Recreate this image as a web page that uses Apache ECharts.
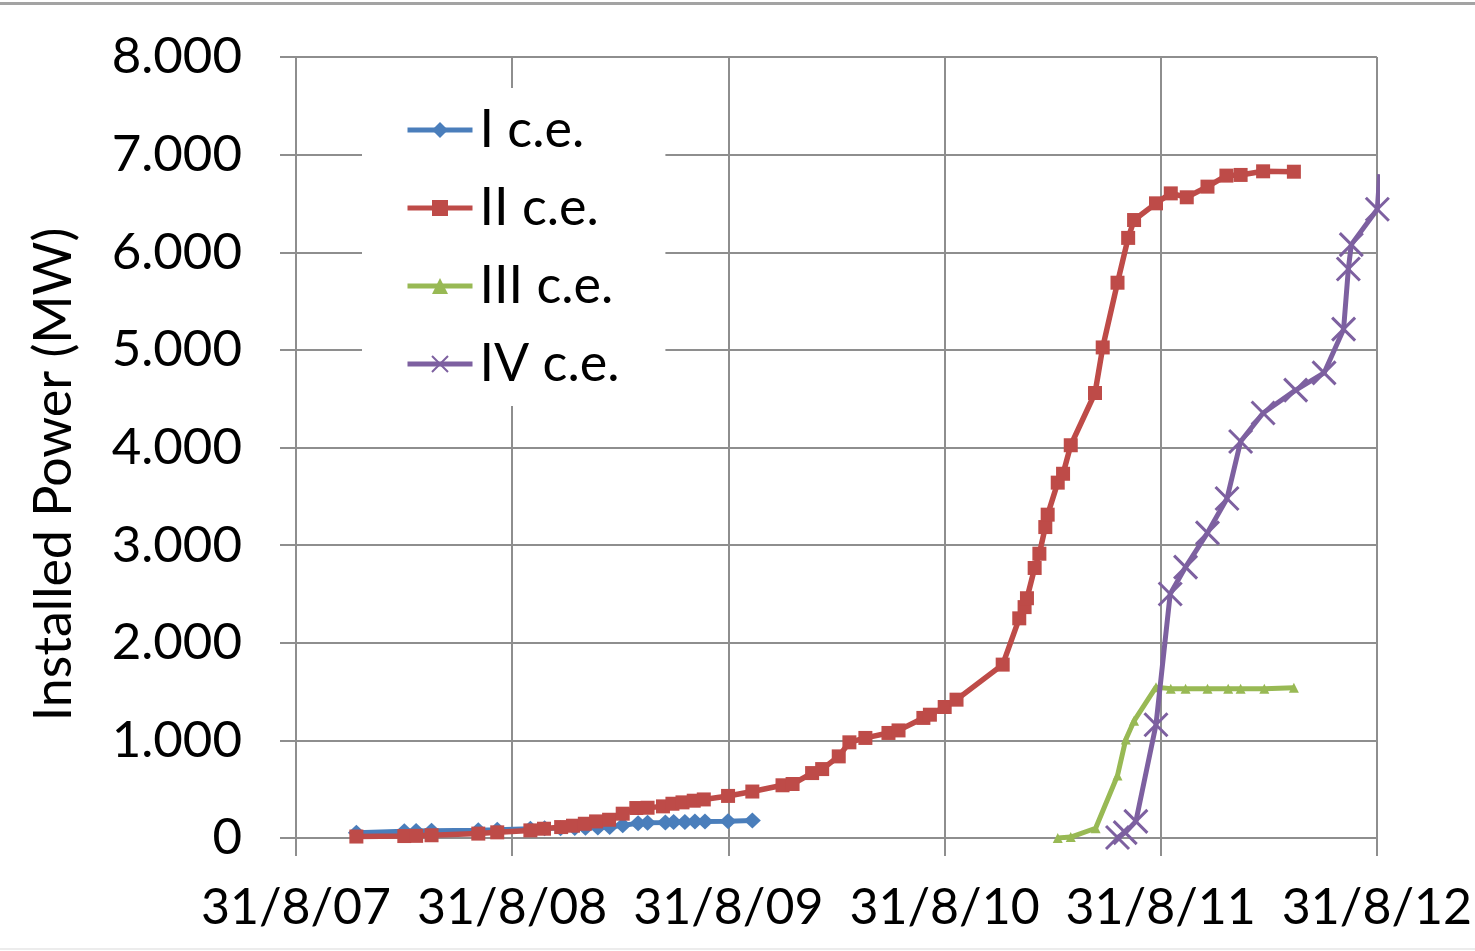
<!DOCTYPE html>
<html>
<head>
<meta charset="utf-8">
<script src="https://cdn.jsdelivr.net/npm/echarts@6/dist/echarts.min.js"></script>
<style>
  html, body { margin: 0; padding: 0; background: #ffffff; }
  #frameTop { position: absolute; left: 0; top: 2px; width: 1475px; height: 3px; background: #a3a3a3; }
  #frameBottom { position: absolute; left: 0; top: 948px; width: 1475px; height: 2px; background: #ececec; }
  #chart { position: absolute; left: 0; top: 0; width: 1475px; height: 951px; }
</style>
</head>
<body>
<div id="chart"></div>
<div id="frameTop"></div>
<div id="frameBottom"></div>
<script>
// ---- data ----
const tickLabels = ['31/8/07', '31/8/08', '31/8/09', '31/8/10', '31/8/11', '31/8/12'];
const axisStart = '2007-08-31';
const seriesNames = ['I c.e.', 'II c.e.', 'III c.e.', 'IV c.e.'];

const datesI = ['2007-12-11','2008-03-01','2008-03-21','2008-04-16','2008-07-04','2008-08-05','2008-09-30','2008-10-24',
  '2008-11-20','2008-12-14','2009-01-01','2009-01-22','2009-02-11','2009-03-05','2009-03-31','2009-04-16',
  '2009-05-16','2009-05-30','2009-06-18','2009-07-05','2009-07-22','2009-08-30','2009-10-10'];
const valuesI = [55, 70, 72, 75, 80, 85, 95, 100,
  100, 102, 105, 108, 112, 130, 150, 155,
  158, 165, 165, 168, 170, 172, 178];

const datesII = ['2007-12-11','2008-03-01','2008-03-21','2008-04-16','2008-07-04','2008-08-05','2008-09-30','2008-10-23',
  '2008-11-21','2008-12-11','2008-12-31','2009-01-19','2009-02-10','2009-03-05','2009-03-28','2009-04-16',
  '2009-05-12','2009-05-28','2009-06-14','2009-07-03','2009-07-20','2009-08-30','2009-10-10','2009-11-30',
  '2009-12-17','2010-01-19','2010-02-05','2010-03-05','2010-03-23','2010-04-19','2010-05-28','2010-06-14',
  '2010-07-26','2010-08-06','2010-08-31','2010-09-20','2010-12-07','2011-01-04','2011-01-13','2011-01-17',
  '2011-01-30','2011-02-07','2011-02-17','2011-02-21','2011-03-10','2011-03-19','2011-04-01','2011-05-12',
  '2011-05-25','2011-06-19','2011-07-07','2011-07-17','2011-08-23','2011-09-17','2011-10-14','2011-11-18',
  '2011-12-20','2012-01-13','2012-02-20','2012-04-12'];
const valuesII = [15, 20, 22, 28, 45, 58, 78, 95,
  112, 126, 146, 170, 187, 249, 307, 310,
  324, 351, 365, 382, 395, 431, 476, 540,
  553, 665, 706, 836, 980, 1025, 1076, 1102,
  1230, 1263, 1342, 1417, 1776, 2250, 2365, 2456,
  2766, 2912, 3185, 3312, 3640, 3731, 4023, 4558,
  5025, 5688, 6147, 6330, 6501, 6603, 6563, 6672,
  6785, 6792, 6829, 6825];

const datesIII = ['2011-03-10','2011-04-01','2011-05-13','2011-06-19','2011-07-03','2011-07-17','2011-08-23',
  '2011-09-17','2011-10-12','2011-11-18','2011-12-23','2012-01-13','2012-02-22','2012-04-12'];
const valuesIII = [0, 10, 100, 640, 1010, 1200, 1545,
  1530, 1530, 1530, 1530, 1530, 1530, 1540];

const datesIV = ['2011-06-19','2011-07-02','2011-07-20','2011-08-23','2011-09-16','2011-10-12','2011-11-18',
  '2011-12-21','2012-01-13','2012-02-20','2012-04-15','2012-06-02','2012-07-05','2012-07-13','2012-07-18',
  '2012-08-31','2012-09-04'];
const valuesIV = [5, 55, 170, 1160, 2500, 2775, 3126,
  3477, 4062, 4354, 4588, 4764, 5212, 5828, 6078,
  6440, 6800];

const colors = ['#4a7ebb', '#be4b48', '#98b954', '#7d60a0'];

// ---- helpers ----
const DAY = 86400000;
const t0 = Date.parse(axisStart);
function toYears(d) { return (Date.parse(d) - t0) / (365.25 * DAY); }
function pairs(dates, values) { return dates.map((d, i) => [toYears(d), values[i]]); }
function fmtThousands(v) {
  if (v === 0) return '0';
  return Math.floor(v / 1000) + '.' + String(v % 1000).padStart(3, '0');
}

const FONT = 'Lato';
const GRID = '#8e8e8e';

const xPath = 'path://M0,0L10,10M10,0L0,10';

const dataIV = pairs(datesIV, valuesIV).map((p, i, arr) =>
  i === arr.length - 1 ? { value: p, symbol: 'none' } : p);

const chart = echarts.init(document.getElementById('chart'), null, { renderer: 'canvas' });
chart.setOption({
  animation: false,
  backgroundColor: '#ffffff',
  textStyle: { fontFamily: FONT },
  grid: { left: 296, right: 95, top: 57, bottom: 113, containLabel: false },
  legend: {
    orient: 'vertical',
    left: 362,
    top: 88,
    padding: [14, 46, 14, 43],
    backgroundColor: '#ffffff',
    itemWidth: 65,
    itemHeight: 20,
    itemGap: 22,
    data: seriesNames,
    lineStyle: { width: 5 },
    textStyle: { fontFamily: FONT, fontSize: 52, color: '#000', lineHeight: 56, padding: [0, 0, 0, 2] }
  },
  xAxis: {
    type: 'value',
    min: 0,
    max: 5,
    interval: 1,
    axisLine: { show: true, lineStyle: { color: GRID, width: 2 } },
    axisTick: { show: true, length: 18, lineStyle: { color: GRID, width: 2 } },
    splitLine: { show: true, lineStyle: { color: GRID, width: 2 } },
    axisLabel: {
      margin: 45,
      fontFamily: FONT, fontSize: 50, color: '#000',
      formatter: v => tickLabels[Math.round(v)] || ''
    }
  },
  yAxis: {
    type: 'value',
    min: 0,
    max: 8000,
    interval: 1000,
    name: 'Installed Power (MW)',
    nameLocation: 'middle',
    nameGap: 216,
    nameTextStyle: { fontFamily: FONT, fontSize: 52, color: '#000', padding: [0, 54, 0, 0] },
    axisLine: { show: true, lineStyle: { color: GRID, width: 2 } },
    axisTick: { show: true, length: 16, lineStyle: { color: GRID, width: 2 } },
    splitLine: { show: true, lineStyle: { color: GRID, width: 2 } },
    axisLabel: {
      margin: 54,
      fontFamily: FONT, fontSize: 51, color: '#000',
      formatter: v => fmtThousands(v)
    }
  },
  series: [
    {
      name: seriesNames[0], type: 'line', data: pairs(datesI, valuesI),
      symbol: 'diamond', symbolSize: [17, 16],
      lineStyle: { color: colors[0], width: 5 },
      itemStyle: { color: colors[0] }, z: 2
    },
    {
      name: seriesNames[1], type: 'line', data: pairs(datesII, valuesII),
      symbol: 'rect', symbolSize: 14,
      lineStyle: { color: colors[1], width: 5.5 },
      itemStyle: { color: colors[1] }, z: 3
    },
    {
      name: seriesNames[2], type: 'line', data: pairs(datesIII, valuesIII),
      symbol: 'triangle', symbolSize: 10,
      lineStyle: { color: colors[2], width: 5 },
      itemStyle: { color: colors[2] }, z: 4
    },
    {
      name: seriesNames[3], type: 'line', data: dataIV,
      symbol: xPath, symbolSize: 23, symbolKeepAspect: true,
      clip: false,
      lineStyle: { color: colors[3], width: 5 },
      itemStyle: { color: colors[3], borderColor: colors[3], borderWidth: 3 }, z: 5
    }
  ]
});
</script>
</body>
</html>
